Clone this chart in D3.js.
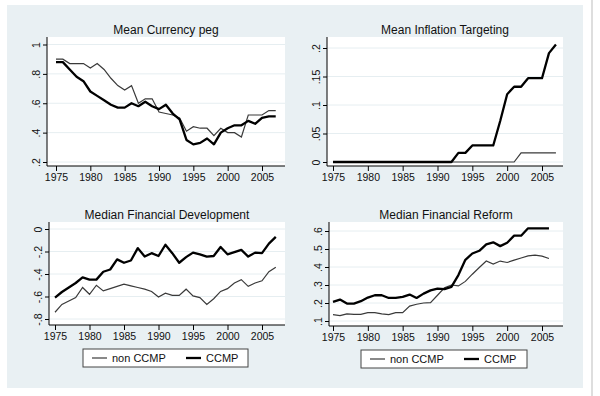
<!DOCTYPE html>
<html>
<head>
<meta charset="utf-8">
<script src="https://cdn.jsdelivr.net/npm/d3@7"></script>
<style>
  body { margin: 0; background: #fff; }
  text { font-family: "Liberation Sans", Arial, sans-serif; fill: #111; }
</style>
</head>
<body>
<script>
// years on the x axis
var years = [1975,1976,1977,1978,1979,1980,1981,1982,1983,1984,1985,1986,1987,1988,1989,1990,
             1991,1992,1993,1994,1995,1996,1997,1998,1999,2000,2001,2002,2003,2004,2005,2006,2007];
var yearsReform = [1975,1976,1977,1978,1979,1980,1981,1982,1983,1984,1985,1986,1987,1988,1989,1990,
             1991,1992,1993,1994,1995,1996,1997,1998,1999,2000,2001,2002,2003,2004,2005,2006];
var xTicks = [1975,1980,1985,1990,1995,2000,2005];

// Mean Currency peg
var pegNon  = [.90,.90,.87,.87,.87,.84,.87,.83,.77,.72,.69,.72,.60,.63,.63,.54,.53,.52,.50,.41,
               .44,.43,.43,.38,.43,.40,.40,.37,.52,.52,.52,.55,.55];
var pegCcmp = [.88,.88,.83,.78,.75,.68,.65,.62,.59,.57,.57,.60,.58,.61,.58,.56,.59,.53,.49,.35,
               .32,.33,.36,.32,.40,.43,.45,.45,.48,.46,.50,.51,.51];
var pegTicks = [.2,.4,.6,.8,1];
var pegLabels = [".2",".4",".6",".8","1"];

// Mean Inflation Targeting
var itNon  = [0,0,0,0,0,0,0,0,0,0,0,0,0,0,0,0,0,0,0,0,0,0,0,0,0,0,0,.016,.016,.016,.016,.016,.016];
var itCcmp = [0,0,0,0,0,0,0,0,0,0,0,0,0,0,0,0,0,0,.016,.016,.029,.029,.029,.029,.072,.119,
              .132,.132,.147,.147,.147,.191,.206];
var itTicks = [0,.05,.1,.15,.2];
var itLabels = ["0",".05",".1",".15",".2"];

// Median Financial Development
var fdNon  = [-.74,-.67,-.64,-.61,-.52,-.58,-.50,-.55,-.53,-.51,-.49,-.505,-.52,-.535,-.555,-.605,
              -.57,-.59,-.59,-.535,-.595,-.61,-.67,-.62,-.555,-.53,-.48,-.45,-.51,-.48,-.46,-.38,-.34];
var fdCcmp = [-.61,-.56,-.52,-.48,-.43,-.45,-.45,-.38,-.36,-.27,-.30,-.28,-.17,-.245,-.215,-.24,
              -.14,-.215,-.30,-.25,-.21,-.225,-.245,-.24,-.16,-.225,-.205,-.185,-.245,-.21,-.215,-.13,-.07];
var fdTicks = [-.8,-.6,-.4,-.2,0];
var fdLabels = ["-.8","-.6","-.4","-.2","0"];

// Median Financial Reform
var frNon  = [.135,.13,.14,.137,.137,.146,.146,.14,.135,.146,.146,.183,.193,.20,.202,.243,
              .284,.30,.295,.32,.36,.397,.433,.416,.433,.425,.438,.45,.462,.466,.46,.447];
var frCcmp = [.206,.219,.197,.197,.21,.23,.243,.243,.228,.228,.234,.247,.228,.252,.27,.28,
              .277,.29,.355,.44,.475,.49,.526,.537,.516,.535,.574,.574,.615,.615,.615,.615];
var frTicks = [.1,.2,.3,.4,.5,.6];
var frLabels = [".1",".2",".3",".4",".5",".6"];

var legendNames = ["non CCMP","CCMP"];

var W = 600, H = 396;
var svg = d3.select("body").append("svg").attr("width", W).attr("height", H);

// graph region background
svg.append("rect").attr("x",7).attr("y",5).attr("width",576).attr("height",383).attr("fill","#e9f0f3");
svg.append("line").attr("x1",592).attr("x2",592).attr("y1",0).attr("y2",H)
  .attr("stroke","#c8c8c8").attr("stroke-width",1.2);

var panels = [
  {title:"Mean Currency peg", years:years, non:pegNon, ccmp:pegCcmp, ticks:pegTicks, labels:pegLabels,
   left:47, right:285, top:37, bottom:166, xpx:[56,262], ypx:[162,44.5], legend:null},
  {title:"Mean Inflation Targeting", years:years, non:itNon, ccmp:itCcmp, ticks:itTicks, labels:itLabels,
   left:327, right:563, top:37, bottom:166, xpx:[333,542], ypx:[162,48], legend:null},
  {title:"Median Financial Development", years:years, non:fdNon, ccmp:fdCcmp, ticks:fdTicks, labels:fdLabels,
   left:49, right:285, top:222, bottom:325, xpx:[55,262], ypx:[319,229], legend:{x:83, y:349, w:165}},
  {title:"Median Financial Reform", years:yearsReform, non:frNon, ccmp:frCcmp, ticks:frTicks, labels:frLabels,
   left:329, right:563, top:222, bottom:326, xpx:[333,542], ypx:[321,231], legend:{x:361, y:350, w:166}}
];

panels.forEach(function(p) {
  var g = svg.append("g");
  var x = d3.scaleLinear().domain([1975,2005]).range(p.xpx);
  var y = d3.scaleLinear().domain([p.ticks[0], p.ticks[p.ticks.length-1]]).range(p.ypx);

  // plot region
  g.append("rect").attr("x",p.left).attr("y",p.top)
    .attr("width",p.right-p.left).attr("height",p.bottom-p.top).attr("fill","#fff");

  // grid
  g.selectAll("line.grid").data(p.ticks).enter().append("line")
    .attr("class","grid")
    .attr("x1",p.left).attr("x2",p.right)
    .attr("y1",function(d){return y(d);}).attr("y2",function(d){return y(d);})
    .attr("stroke","#e6eef1").attr("stroke-width",1);

  // title
  g.append("text").attr("x",(p.left+p.right)/2).attr("y",p.top-3)
    .attr("text-anchor","middle").style("font-size","12px").text(p.title);

  // lines
  var line = d3.line()
    .x(function(d,i){return x(p.years[i]);})
    .y(function(d){return y(d);});
  g.append("path").datum(p.non).attr("d",line)
    .attr("fill","none").attr("stroke","#3a3a3a").attr("stroke-width",1.2);
  g.append("path").datum(p.ccmp).attr("d",line)
    .attr("fill","none").attr("stroke","#000").attr("stroke-width",2.3)
    .attr("stroke-linejoin","round");

  // x axis
  var xa = g.append("g").attr("transform","translate(0,"+p.bottom+")")
    .call(d3.axisBottom(x).tickValues(xTicks).tickSize(5).tickPadding(3).tickFormat(d3.format("d")));
  xa.select(".domain").remove();
  xa.selectAll("text").style("font-size","10.5px").style("font-family","'Liberation Sans', Arial, sans-serif");
  g.append("line").attr("x1",p.left).attr("x2",p.right).attr("y1",p.bottom).attr("y2",p.bottom)
    .attr("stroke","#000").attr("stroke-width",1);

  // y axis
  var ya = g.append("g").attr("transform","translate("+p.left+",0)")
    .call(d3.axisLeft(y).tickValues(p.ticks).tickSize(4)
      .tickFormat(function(d,i){return p.labels[i];}));
  ya.select(".domain").remove();
  ya.selectAll("text")
    .attr("x",0).attr("dy",0)
    .attr("text-anchor","middle")
    .attr("transform","translate(-7,0) rotate(-90)")
    .style("font-size","10.5px").style("font-family","'Liberation Sans', Arial, sans-serif");
  g.append("line").attr("x1",p.left).attr("x2",p.left).attr("y1",p.top).attr("y2",p.bottom)
    .attr("stroke","#000").attr("stroke-width",1);

  // legend
  if (p.legend) {
    var L = p.legend;
    var lg = g.append("g").attr("transform","translate("+L.x+","+L.y+")");
    lg.append("rect").attr("width",L.w).attr("height",18)
      .attr("fill","#fff").attr("stroke","#444").attr("stroke-width",1);
    var items = [{x:9, w:1.2, c:"#3a3a3a"}, {x:103, w:2.3, c:"#000"}];
    items.forEach(function(it,i){
      lg.append("line").attr("x1",it.x).attr("x2",it.x+15).attr("y1",9).attr("y2",9)
        .attr("stroke",it.c).attr("stroke-width",it.w);
      lg.append("text").attr("x",it.x+20).attr("y",13).style("font-size","11px").text(legendNames[i]);
    });
  }
});
</script>
</body>
</html>
